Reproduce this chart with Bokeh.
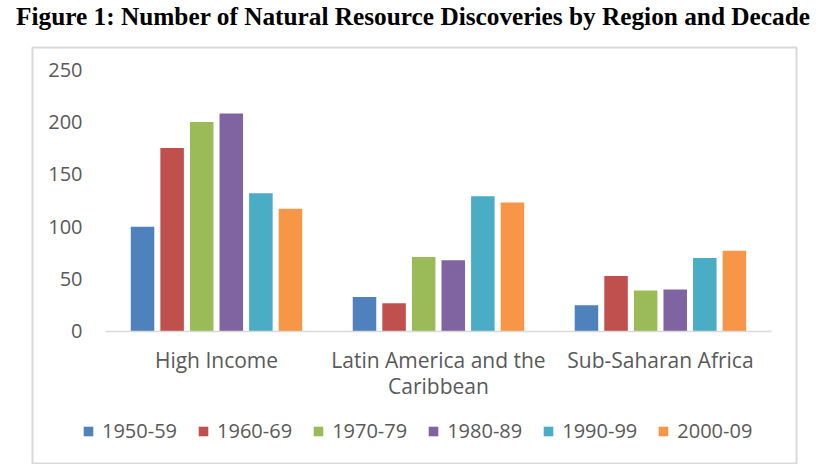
from bokeh.plotting import figure
from bokeh.models import Range1d, FixedTicker, Legend, LegendItem, Div
from bokeh.layouts import column
from bokeh.embed import file_html
from bokeh.resources import INLINE

regions = ["High Income", "Latin America and the\nCaribbean", "Sub-Saharan Africa"]
decades = ["1950-59", "1960-69", "1970-79", "1980-89", "1990-99", "2000-09"]
colors = ["#4F81BD", "#C0504D", "#9BBB59", "#8064A2", "#4BACC6", "#F79646"]

d1950 = [100, 33, 25]
d1960 = [175, 27, 53]
d1970 = [200, 71, 39]
d1980 = [208, 68, 40]
d1990 = [132, 129, 70]
d2000 = [117, 123, 77]
series = [d1950, d1960, d1970, d1980, d1990, d2000]

y_ticks = [0, 50, 100, 150, 200, 250]

FONT = "Open Sans"
GREY = "#595959"

title = Div(text="Figure 1: Number of Natural Resource Discoveries by Region and Decade",
            width=816, height=36,
            styles={"font-family": "Liberation Serif", "font-weight": "bold",
                    "font-size": "25.3px", "text-align": "center",
                    "line-height": "22px", "color": "black"})

# one unit per region; frame is the grey box around the chart, so the
# ranges reach past the bars to leave room for labels and legend
n = len(regions)
p = figure(width=808, height=418, output_backend="svg", toolbar_location=None,
           x_range=Range1d(-0.329, n + 0.113), y_range=Range1d(-126, 271),
           min_border_left=32, min_border_right=12,
           min_border_top=1, min_border_bottom=1)
p.outline_line_color = "#D9D9D9"
p.outline_line_width = 2
p.grid.grid_line_color = None
p.background_fill_color = "white"

pitch = 0.1333
centers = [i + 0.5 for i in range(n)]
items = []
for i, (dec, vals, col) in enumerate(zip(decades, series, colors)):
    xs = [c + (i - 2.5) * pitch for c in centers]
    r = p.vbar(x=xs, top=vals, width=0.106, color=col, line_color=None)
    items.append(LegendItem(label=dec, renderers=[r]))

# y axis: labels only, pinned to the left end of the bars' area
p.yaxis.fixed_location = 0
p.yaxis.ticker = FixedTicker(ticks=y_ticks)
p.yaxis.axis_line_color = None
p.yaxis.major_tick_line_color = None
p.yaxis.minor_tick_line_color = None
p.yaxis.major_tick_out = 0
p.yaxis.major_label_standoff = 23
p.yaxis.major_label_text_font = FONT
p.yaxis.major_label_text_font_size = "20px"
p.yaxis.major_label_text_color = GREY

# x axis at zero with region names
p.xaxis.fixed_location = 0
p.xaxis.bounds = (0, n)
p.xaxis.ticker = FixedTicker(ticks=centers)
p.xaxis.major_label_overrides = {c: r for c, r in zip(centers, regions)}
p.xaxis.axis_line_color = "#D9D9D9"
p.xaxis.axis_line_width = 1.5
p.xaxis.major_tick_line_color = None
p.xaxis.minor_tick_line_color = None
p.xaxis.major_tick_out = 0
p.xaxis.major_label_standoff = 15
p.xaxis.major_label_text_font = FONT
p.xaxis.major_label_text_font_size = "21px"
p.xaxis.major_label_text_line_height = 0.9
p.xaxis.major_label_text_color = GREY

legend = Legend(items=items, orientation="horizontal", location=(50, 19),
                glyph_width=12, glyph_height=12, label_standoff=8, spacing=20,
                padding=0, margin=0, border_line_color=None,
                background_fill_alpha=0,
                label_text_font=FONT, label_text_font_size="20px",
                label_text_color=GREY)
p.add_layout(legend)

layout = column(title, p, spacing=0)

open("out.html", "w").write(file_html(layout, INLINE))
